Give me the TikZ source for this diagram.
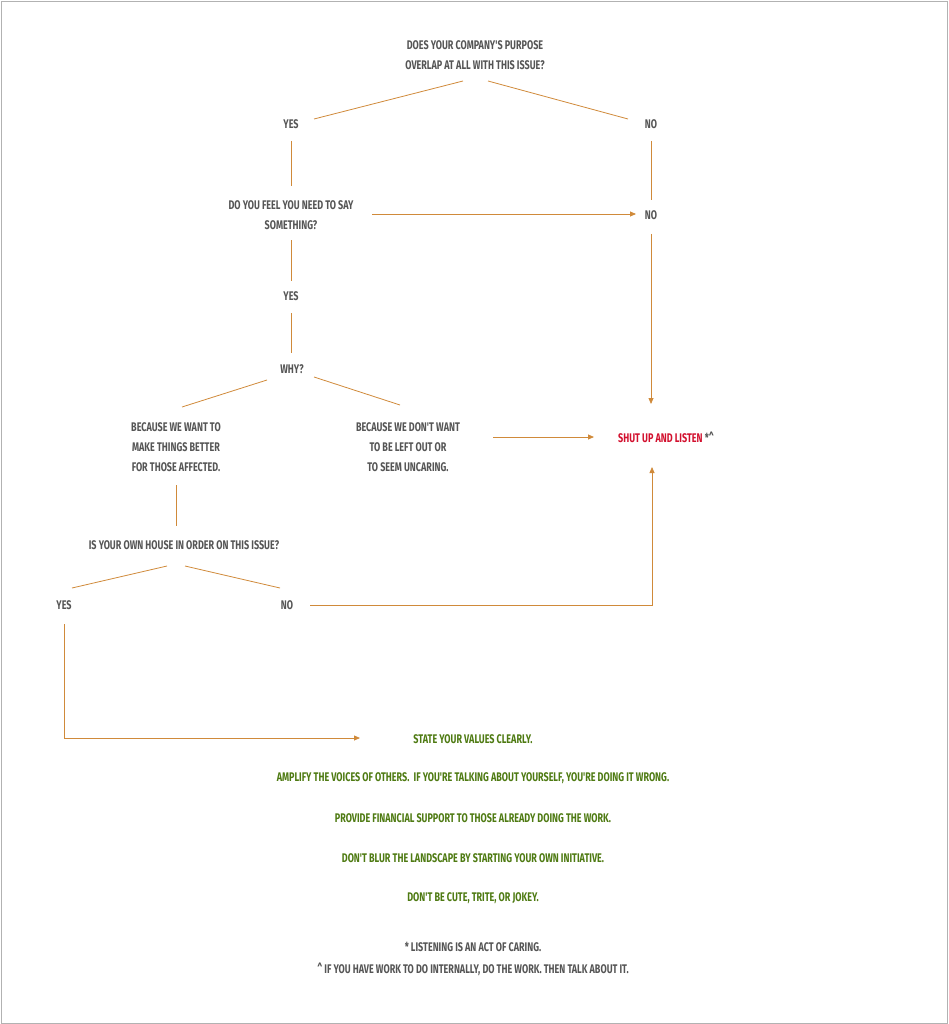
\documentclass[tikz,border=0pt]{standalone}
\usepackage{fontspec}
\newfontfamily\bb{Fira Sans}[FakeStretch=0.72]
\usetikzlibrary{arrows.meta}
\definecolor{ln}{HTML}{D08A3A}
\definecolor{tx}{HTML}{555555}
\definecolor{rd}{HTML}{D2102E}
\definecolor{gr}{HTML}{4E7A12}
\begin{document}
\begin{tikzpicture}[x=1pt,y=-1pt,
  t/.style={font=\bb\bfseries\fontsize{12.5}{20}\selectfont,text=tx,align=center,inner sep=1pt},
  g/.style={t,text=gr},
  c/.style={draw=ln,line width=0.8pt},
  a/.style={c,-{Triangle[length=6pt,width=5pt]}}]
\draw[gray!60,line width=0.8pt] (1,1) rectangle (947,1023);
\useasboundingbox (0,0) rectangle (948,1024);
\node[t] (q1) at (475,55) {DOES YOUR COMPANY'S PURPOSE\\OVERLAP AT ALL WITH THIS ISSUE?};
\node[t] (yes1) at (291,124) {YES};
\node[t] (no1) at (651,124) {NO};
\node[t] (q2) at (291,215) {DO YOU FEEL YOU NEED TO SAY\\SOMETHING?};
\node[t] (no2) at (651,215) {NO};
\node[t] (yes2) at (291,296) {YES};
\node[t] (why) at (292,369) {WHY?};
\node[t] (b1) at (176,447) {BECAUSE WE WANT TO\\MAKE THINGS BETTER\\FOR THOSE AFFECTED.};
\node[t] (b2) at (408,447) {BECAUSE WE DON'T WANT\\TO BE LEFT OUT OR\\TO SEEM UNCARING.};
\node[t] (shut) at (666,437) {\textcolor{rd}{SHUT UP AND LISTEN} *\^{}};
\node[t] (q3) at (184,545) {IS YOUR OWN HOUSE IN ORDER ON THIS ISSUE?};
\node[t] (yes3) at (64,605) {YES};
\node[t] (no3) at (287,605) {NO};
\node[g] (s1) at (473,739) {STATE YOUR VALUES CLEARLY.};
\node[g] (s2) at (473,778) {AMPLIFY THE VOICES OF OTHERS.\ \ IF YOU'RE TALKING ABOUT YOURSELF, YOU'RE DOING IT WRONG.};
\node[g] (s3) at (473,818) {PROVIDE FINANCIAL SUPPORT TO THOSE ALREADY DOING THE WORK.};
\node[g] (s4) at (473,858) {DON'T BLUR THE LANDSCAPE BY STARTING YOUR OWN INITIATIVE.};
\node[g] (s5) at (473,898) {DON'T BE CUTE, TRITE, OR JOKEY.};
\node[t] (f1) at (473,947) {* LISTENING IS AN ACT OF CARING.};
\node[t] (f2) at (473,969) {\^{} IF YOU HAVE WORK TO DO INTERNALLY, DO THE WORK. THEN TALK ABOUT IT.};
\coordinate (c1) at (652,605);
\coordinate (c2) at (64,738);
\draw[c] (463,81) -- (314,119);
\draw[c] (488,81) -- (628,119);
\draw[c] (291,141) -- (291,186);
\draw[c] (651,141) -- (651,200);
\draw[c] (291,240) -- (291,281);
\draw[c] (291,313) -- (291,353);
\draw[c] (267,380) -- (182,407);
\draw[c] (314,377) -- (400,405);
\draw[c] (176,485) -- (176,526);
\draw[c] (167,566) -- (72,588);
\draw[c] (185,566) -- (280,588);
\draw[a] (372,214) -- (636,214);
\draw[a] (651,234) -- (651,404);
\draw[a] (493,437) -- (594,437);
\draw[a] (310,605) -- (c1) -- (652,467);
\draw[a] (64,624) -- (c2) -- (360,738);
\end{tikzpicture}
\end{document}
